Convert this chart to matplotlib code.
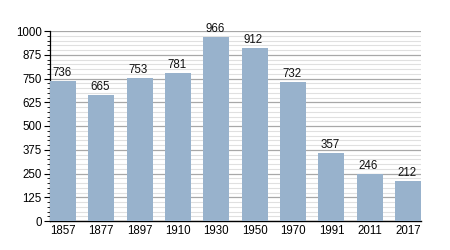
import matplotlib
matplotlib.use("Agg")
import matplotlib.pyplot as plt
from matplotlib.ticker import MultipleLocator

years = ["1857", "1877", "1897", "1910", "1930", "1950", "1970", "1991", "2011", "2017"]
population = [736, 665, 753, 781, 966, 912, 732, 357, 246, 212]

plt.rcParams['font.family'] = ['Liberation Sans', 'DejaVu Sans']

fig = plt.figure(figsize=(4.5, 2.5), dpi=100)
ax = fig.add_axes([0.111, 0.116, 0.825, 0.76])

x = list(range(len(years)))
bars = ax.bar(x, population, width=0.68, color='#98b2cc', zorder=3)

for xi, v in zip(x, population):
    ax.annotate(str(v), (xi, v), xytext=(-1, 1.5), textcoords='offset points',
                ha='center', va='bottom', fontsize=8.3, color='#111111', zorder=4)

ax.set_xlim(-0.34, len(years) - 1 + 0.34)
ax.set_ylim(0, 1000)
ax.yaxis.set_major_locator(MultipleLocator(125))
ax.yaxis.set_minor_locator(MultipleLocator(25))
ax.grid(axis='y', which='major', color='#a8a8a8', linewidth=0.9, zorder=1)
ax.grid(axis='y', which='minor', color='#e0e0e0', linewidth=0.8, zorder=0)

ax.set_xticks(x)
ax.set_xticklabels(years)
ax.tick_params(axis='x', length=0, labelsize=8.3, pad=3)
ax.tick_params(axis='y', which='major', length=4, width=0.8, labelsize=8.3, pad=2)
ax.tick_params(axis='y', which='minor', length=2, width=0.6)

for s in ['top', 'right']:
    ax.spines[s].set_visible(False)
ax.spines['left'].set_linewidth(0.9)
ax.spines['bottom'].set_linewidth(1.0)

fig.savefig("out.png", dpi=100)
